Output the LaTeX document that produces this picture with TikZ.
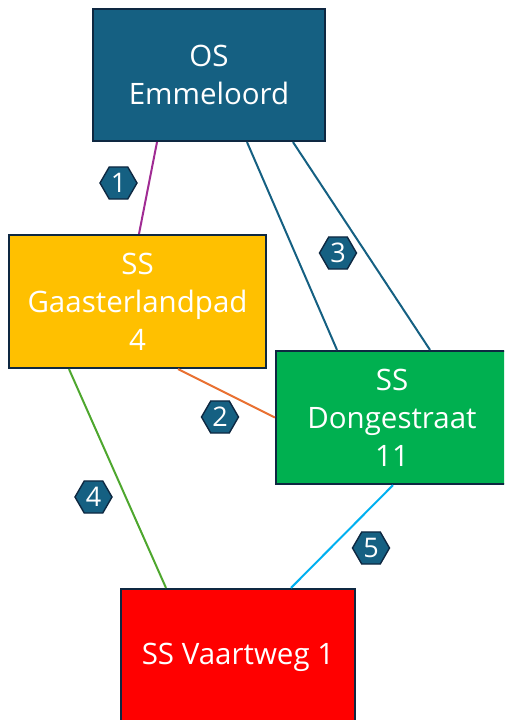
\documentclass[tikz,border=0pt]{standalone}
\usepackage{fontspec}
\setmainfont{Open Sans}
\usetikzlibrary{shapes.geometric,calc}
\definecolor{osblue}{HTML}{156082}
\definecolor{rim}{HTML}{0E2841}
\definecolor{gold}{HTML}{FFC000}
\definecolor{sgreen}{HTML}{00B050}
\definecolor{lpurple}{HTML}{A02B93}
\definecolor{lorange}{HTML}{E97132}
\definecolor{lgreen}{HTML}{4EA72E}
\definecolor{lblue}{HTML}{00B0F0}
\begin{document}
\begin{tikzpicture}[x=1pt,y=-1pt,
  station/.style={draw=rim,line width=2.2pt,text=white,align=center,inner sep=0pt,
    font=\fontsize{29.5}{38}\selectfont},
  badge/.style={regular polygon,regular polygon sides=6,minimum size=37pt,inner sep=0pt,
    fill=osblue,draw=rim,line width=1.4pt,text=white,font=\fontsize{27}{27}\selectfont},
  link/.style={line width=2pt}]
  \useasboundingbox (0,0) rectangle (504,720);
  \clip (0,0) rectangle (504,720);
  \node [station,fill=osblue,minimum width=232pt,minimum height=132pt] (os) at (209,75) {OS\\Emmeloord};
  \node [station,fill=gold,minimum width=257pt,minimum height=133pt] (gp) at (137.5,301.5) {SS\\Gaasterlandpad\\4};
  \node [station,fill=sgreen,minimum width=232pt,minimum height=133pt] (ds) at (392,417.5) {SS\\Dongestraat\\11};
  \node [station,fill=red,minimum width=234pt,minimum height=136pt] (vw) at (238,657) {SS Vaartweg 1};

  \draw [link,lpurple] ([xshift=-52pt]os.south) -- ([xshift=1.5pt]gp.north);
  \draw [link,lorange] ([xshift=40.5pt]gp.south) -- (ds.west);
  \draw [link,osblue] ([xshift=38pt]os.south) -- ([xshift=-55pt]ds.north);
  \draw [link,osblue] ([xshift=84pt]os.south) -- ([xshift=38pt]ds.north);
  \draw [link,lgreen] ([xshift=-68.5pt]gp.south) -- ([xshift=-72pt]vw.north);
  \draw [link,lblue] ([xshift=1pt]ds.south) -- ([xshift=53pt]vw.north);

  \node [badge] (b1) at (118.5,183) {1};
  \node [badge] (b2) at (220,417) {2};
  \node [badge] (b3) at (338,253) {3};
  \node [badge] (b4) at (93.5,497) {4};
  \node [badge] (b5) at (371,548) {5};
\end{tikzpicture}
\end{document}
